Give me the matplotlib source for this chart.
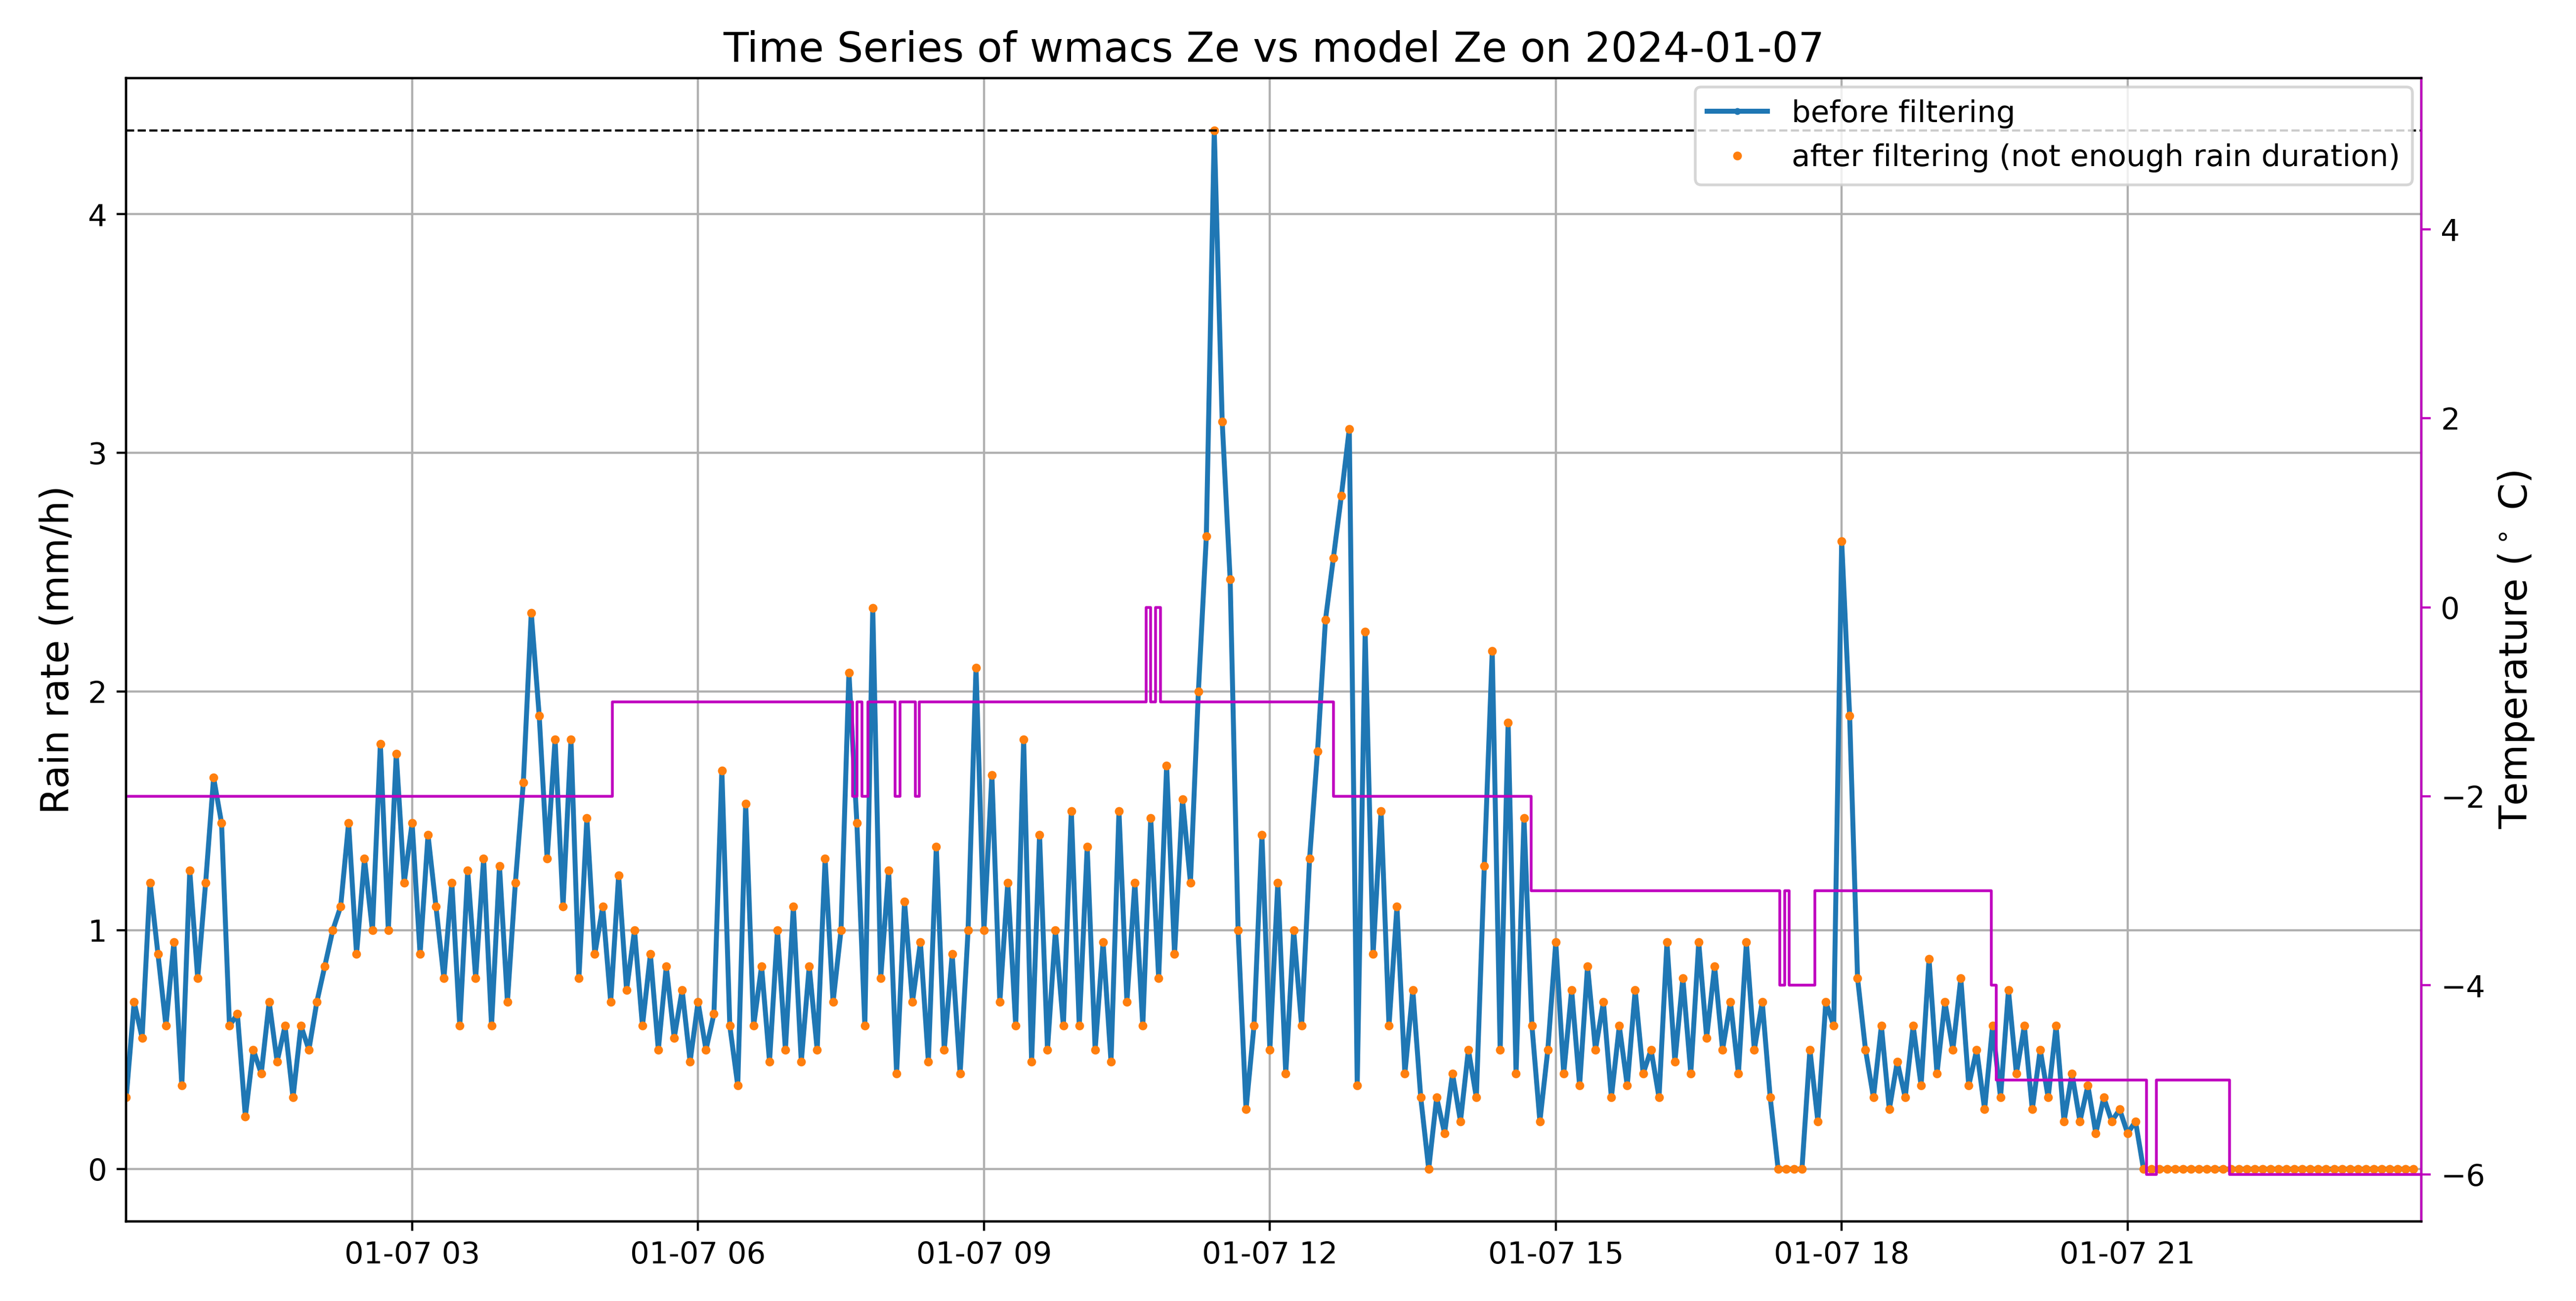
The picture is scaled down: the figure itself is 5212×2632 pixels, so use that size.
import numpy as np
import pandas as pd
import matplotlib
matplotlib.use("Agg")
import matplotlib.pyplot as plt
import matplotlib.dates as mdates

# rain rate, 5-minute samples, one row per hour (00h ... 23h), plus 24:00
rain_rate = [
    0.30, 0.70, 0.55, 1.20, 0.90, 0.60, 0.95, 0.35, 1.25, 0.80, 1.20, 1.64,
    1.45, 0.60, 0.65, 0.22, 0.50, 0.40, 0.70, 0.45, 0.60, 0.30, 0.60, 0.50,
    0.70, 0.85, 1.00, 1.10, 1.45, 0.90, 1.30, 1.00, 1.78, 1.00, 1.74, 1.20,
    1.45, 0.90, 1.40, 1.10, 0.80, 1.20, 0.60, 1.25, 0.80, 1.30, 0.60, 1.27,
    0.70, 1.20, 1.62, 2.33, 1.90, 1.30, 1.80, 1.10, 1.80, 0.80, 1.47, 0.90,
    1.10, 0.70, 1.23, 0.75, 1.00, 0.60, 0.90, 0.50, 0.85, 0.55, 0.75, 0.45,
    0.70, 0.50, 0.65, 1.67, 0.60, 0.35, 1.53, 0.60, 0.85, 0.45, 1.00, 0.50,
    1.10, 0.45, 0.85, 0.50, 1.30, 0.70, 1.00, 2.08, 1.45, 0.60, 2.35, 0.80,
    1.25, 0.40, 1.12, 0.70, 0.95, 0.45, 1.35, 0.50, 0.90, 0.40, 1.00, 2.10,
    1.00, 1.65, 0.70, 1.20, 0.60, 1.80, 0.45, 1.40, 0.50, 1.00, 0.60, 1.50,
    0.60, 1.35, 0.50, 0.95, 0.45, 1.50, 0.70, 1.20, 0.60, 1.47, 0.80, 1.69,
    0.90, 1.55, 1.20, 2.00, 2.65, 4.35, 3.13, 2.47, 1.00, 0.25, 0.60, 1.40,
    0.50, 1.20, 0.40, 1.00, 0.60, 1.30, 1.75, 2.30, 2.56, 2.82, 3.10, 0.35,
    2.25, 0.90, 1.50, 0.60, 1.10, 0.40, 0.75, 0.30, 0.00, 0.30, 0.15, 0.40,
    0.20, 0.50, 0.30, 1.27, 2.17, 0.50, 1.87, 0.40, 1.47, 0.60, 0.20, 0.50,
    0.95, 0.40, 0.75, 0.35, 0.85, 0.50, 0.70, 0.30, 0.60, 0.35, 0.75, 0.40,
    0.50, 0.30, 0.95, 0.45, 0.80, 0.40, 0.95, 0.55, 0.85, 0.50, 0.70, 0.40,
    0.95, 0.50, 0.70, 0.30, 0.00, 0.00, 0.00, 0.00, 0.50, 0.20, 0.70, 0.60,
    2.63, 1.90, 0.80, 0.50, 0.30, 0.60, 0.25, 0.45, 0.30, 0.60, 0.35, 0.88,
    0.40, 0.70, 0.50, 0.80, 0.35, 0.50, 0.25, 0.60, 0.30, 0.75, 0.40, 0.60,
    0.25, 0.50, 0.30, 0.60, 0.20, 0.40, 0.20, 0.35, 0.15, 0.30, 0.20, 0.25,
    0.15, 0.20, 0.00, 0.00, 0.00, 0.00, 0.00, 0.00, 0.00, 0.00, 0.00, 0.00,
    0.00, 0.00, 0.00, 0.00, 0.00, 0.00, 0.00, 0.00, 0.00, 0.00, 0.00, 0.00,
    0.00, 0.00, 0.00, 0.00, 0.00, 0.00, 0.00, 0.00, 0.00, 0.00, 0.00, 0.00,
    0.00,
]

# temperature change points (hours since midnight) and values (°C)
temp_hours = [0.0, 5.1, 7.62, 7.67, 7.72, 7.78, 8.07, 8.12, 8.28, 8.32, 10.7, 10.75,
              10.8, 10.85, 12.67, 14.74, 17.35, 17.4, 17.45, 17.72, 19.57, 19.62,
              21.2, 21.3, 22.07, 24.1]
temp_values = [-2, -1, -2, -1, -2, -1, -2, -1, -2, -1, 0, -1,
               0, -1, -2, -3, -4, -3, -4, -3, -4, -5, -6, -5, -6, -6]

day = pd.Timestamp("2024-01-07")
times = day + pd.to_timedelta(np.arange(len(rain_rate)) * 5, unit="min")
t_times = day + pd.to_timedelta(np.array(temp_hours) * 60, unit="min")

fig, ax = plt.subplots(figsize=(13.03, 6.58), dpi=400)
ax.plot(times, rain_rate, color="#1f77b4", lw=1.8, marker=".", ms=3, label="before filtering")
ax.plot(times, rain_rate, "o", color="#ff7f0e", ms=2.2, ls="none",
        label="after filtering (not enough rain duration)")
ax.axhline(max(rain_rate), color="black", ls="--", lw=0.8)
ax.set_ylim(-0.22, 4.57)
ax.set_xlim(day, day + pd.Timedelta(hours=24, minutes=5))
ax.grid(True)
ax.set_ylabel("Rain rate (mm/h)", fontsize=14)
ax.set_title("Time Series of wmacs Ze vs model Ze on 2024-01-07", fontsize=15)
ax.xaxis.set_major_locator(mdates.HourLocator(byhour=[3, 6, 9, 12, 15, 18, 21]))
ax.xaxis.set_major_formatter(mdates.DateFormatter("%m-%d %H"))
ax.tick_params(labelsize=11)
ax.legend(loc="upper right", fontsize=11, borderaxespad=0.3)

ax2 = ax.twinx()
ax2.step(t_times, temp_values, where="post", color="m", lw=1.0)
ax2.set_ylim(-6.5, 5.6)
ax2.set_ylabel("Temperature ($^\\circ$ C)", fontsize=14)
ax2.tick_params(axis="y", colors="m", labelcolor="black", labelsize=11)
ax2.spines["right"].set_color("m")

fig.subplots_adjust(left=0.049, right=0.94, top=0.94, bottom=0.061)
fig.savefig("out.png", dpi=400)
